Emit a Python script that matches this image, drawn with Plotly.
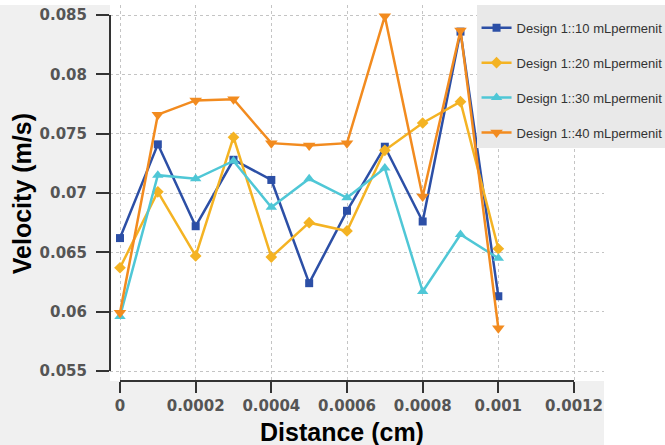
import plotly.graph_objects as go

distance = [0, 0.0001, 0.0002, 0.0003, 0.0004, 0.0005, 0.0006, 0.0007, 0.0008, 0.0009, 0.001]
v10 = [0.0662, 0.0741, 0.0672, 0.0728, 0.0711, 0.0624, 0.0685, 0.0739, 0.0676, 0.0836, 0.0613]
v20 = [0.0637, 0.0701, 0.0647, 0.0747, 0.0646, 0.0675, 0.0668, 0.0736, 0.0759, 0.0777, 0.0653]
v30 = [0.0596, 0.0715, 0.0712, 0.0727, 0.0688, 0.0712, 0.0696, 0.0721, 0.0617, 0.0665, 0.0645]
v40 = [0.0599, 0.0766, 0.0778, 0.0779, 0.0742, 0.0740, 0.0742, 0.0849, 0.0697, 0.0837, 0.0586]

series_names = ["Design 1::10 mLpermenit", "Design 1::20 mLpermenit",
                "Design 1::30 mLpermenit", "Design 1::40 mLpermenit"]
series_values = [v10, v20, v30, v40]
colors = ["#2c4fa6", "#f4b323", "#4fc7d6", "#f28b1f"]
symbols = ["square", "diamond", "triangle-up", "triangle-down"]
sizes = [8, 9, 10, 11]

x_ticks = [0, 0.0002, 0.0004, 0.0006, 0.0008, 0.001, 0.0012]
x_ticktext = ["0", "0.0002", "0.0004", "0.0006", "0.0008", "0.001", "0.0012"]
y_ticks = [0.055, 0.06, 0.065, 0.07, 0.075, 0.08, 0.085]
y_ticktext = ["0.055", "0.06", "0.065", "0.07", "0.075", "0.08", "0.085"]

fig = go.Figure()
for name, vals, c, s, sz in zip(series_names, series_values, colors, symbols, sizes):
    fig.add_trace(go.Scatter(
        x=distance, y=vals, name=name, mode="lines+markers",
        line=dict(color=c, width=2.5),
        marker=dict(symbol=s, size=sz, color=c),
        legendgroup=name,
    ))

bg = "#f0f0f0"
axis_col = "#333333"
tick_font = dict(family="DejaVu Sans", size=15, color="#555555", weight="bold")

fig.update_layout(
    width=665, height=445,
    margin=dict(l=110, r=61, t=5, b=64, autoexpand=False),
    paper_bgcolor=bg, plot_bgcolor="white",
    showlegend=True,
    legend=dict(x=0.742, y=1.0, xanchor="left", yanchor="top",
                bgcolor="#e9e9e9", borderwidth=0,
                title=dict(text=" ", font=dict(size=6)),
                font=dict(family="Liberation Sans", size=13, color="#333333"),
                tracegroupgap=15),
    xaxis=dict(range=[-0.00002643, 0.0012793], tickvals=x_ticks, ticktext=x_ticktext,
               showgrid=True, gridcolor="#c4c4c4", griddash="dot", gridwidth=1,
               zeroline=False, showline=False,
               ticks="outside", ticklen=11, tickwidth=2, tickcolor=axis_col,
               tickfont=tick_font),
    yaxis=dict(range=[0.054157, 0.085843], tickvals=y_ticks, ticktext=y_ticktext,
               showgrid=True, gridcolor="#c4c4c4", griddash="dot", gridwidth=1,
               zeroline=False, showline=False,
               ticks="outside", ticklen=13, tickwidth=2, tickcolor=axis_col,
               tickfont=tick_font, ticklabelstandoff=6),
    shapes=[
        dict(type="rect", xref="paper", yref="paper", x0=1.0, x1=1.2, y0=-0.3, y1=1.1,
             fillcolor="white", line=dict(width=0), layer="below"),
        dict(type="rect", xref="paper", yref="paper", x0=-0.3, x1=1.2, y0=1.0, y1=1.1,
             fillcolor="white", line=dict(width=0), layer="below"),
        dict(type="line", xref="x", yref="paper", x0=x_ticks[0], x1=x_ticks[-1], y0=0, y1=0,
             line=dict(color=axis_col, width=2)),
        dict(type="line", xref="paper", yref="y", x0=0, x1=0, y0=y_ticks[0], y1=y_ticks[-1],
             line=dict(color=axis_col, width=2)),
    ],
    annotations=[
        dict(text="Distance (cm)", xref="paper", yref="paper", x=0.47, y=-0.136,
             showarrow=False, xanchor="center", yanchor="middle",
             font=dict(family="Liberation Sans", size=25, color="black", weight="bold")),
        dict(text="Velocity (m/s)", xref="paper", yref="paper", x=-0.178, y=0.497,
             showarrow=False, xanchor="center", yanchor="middle", textangle=-90,
             font=dict(family="Liberation Sans", size=25, color="black", weight="bold")),
    ],
)

fig.write_html("out.html", config={"displayModeBar": False},
               post_script="document.body.style.margin='0';document.body.style.overflow='hidden';")
